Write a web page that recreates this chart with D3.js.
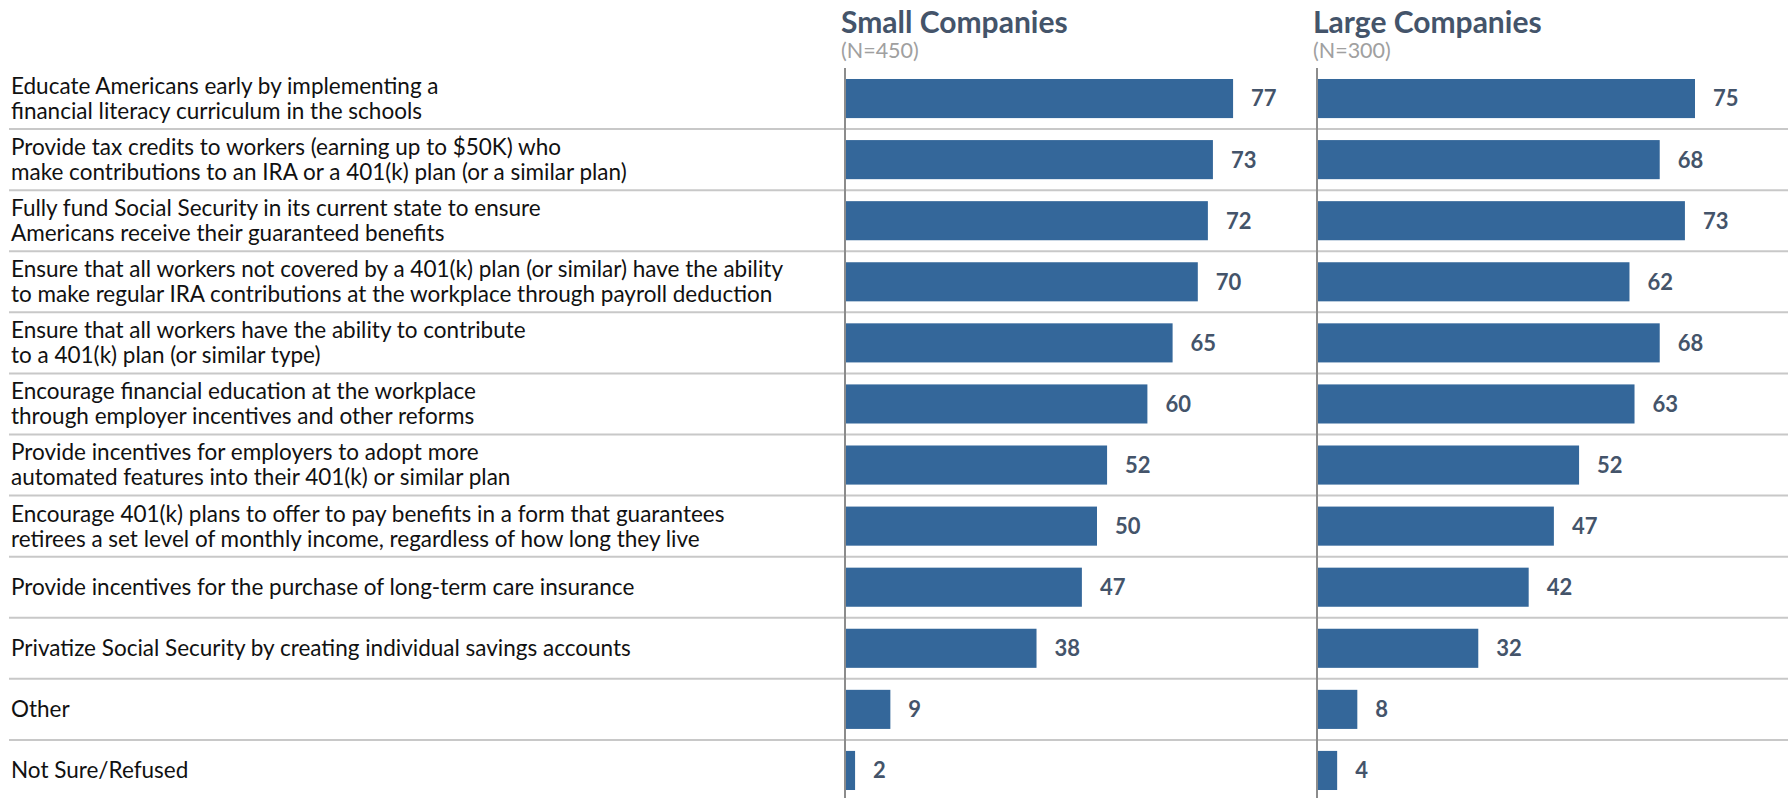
<!DOCTYPE html>
<html>
<head>
<meta charset="utf-8">
<script src="https://cdn.jsdelivr.net/npm/d3@7"></script>
<style>
  body { margin: 0; background: #fff; }
  text { font-family: Lato, "Open Sans", sans-serif; }
</style>
</head>
<body>
<div id="chart"></div>
<script>
const categories = [
  ["Educate Americans early by implementing a", "financial literacy curriculum in the schools"],
  ["Provide tax credits to workers (earning up to $50K) who", "make contributions to an IRA or a 401(k) plan (or a similar plan)"],
  ["Fully fund Social Security in its current state to ensure", "Americans receive their guaranteed benefits"],
  ["Ensure that all workers not covered by a 401(k) plan (or similar) have the ability", "to make regular IRA contributions at the workplace through payroll deduction"],
  ["Ensure that all workers have the ability to contribute", "to a 401(k) plan (or similar type)"],
  ["Encourage financial education at the workplace", "through employer incentives and other reforms"],
  ["Provide incentives for employers to adopt more", "automated features into their 401(k) or similar plan"],
  ["Encourage 401(k) plans to offer to pay benefits in a form that guarantees", "retirees a set level of monthly income, regardless of how long they live"],
  ["Provide incentives for the purchase of long-term care insurance"],
  ["Privatize Social Security by creating individual savings accounts"],
  ["Other"],
  ["Not Sure/Refused"]
];

const smallValues = [77, 73, 72, 70, 65, 60, 52, 50, 47, 38, 9, 2];
const largeValues = [75, 68, 73, 62, 68, 63, 52, 47, 42, 32, 8, 4];

const panelTitles = ["Small Companies", "Large Companies"];
const panelBases = ["(N=450)", "(N=300)"];

const w = 1788;
const h = 798;
const barColor = "#34679a";
const darkText = "#44546a";
const labelSize = 22.5;

const svg = d3.select("#chart")
  .append("svg")
  .attr("width", w)
  .attr("height", h);

const yScale = d3.scaleBand()
  .domain(d3.range(categories.length))
  .range([68, 801])
  .paddingInner(0.36)
  .paddingOuter(0.18);

const step = yScale.step();

// row separators
svg.selectAll("line.sep")
  .data(d3.range(1, categories.length))
  .enter()
  .append("line")
  .attr("class", "sep")
  .attr("x1", 9)
  .attr("x2", w)
  .attr("y1", i => 68 + i * step)
  .attr("y2", i => 68 + i * step)
  .attr("stroke", "#c8c8c8")
  .attr("stroke-width", 2);

// category labels
const labels = svg.selectAll("text.cat")
  .data(categories)
  .enter()
  .append("text")
  .attr("class", "cat")
  .attr("x", 11)
  .attr("y", (d, i) => yScale(i) + yScale.bandwidth() / 2)
  .attr("font-size", labelSize)
  .attr("fill", "#111");

labels.selectAll("tspan")
  .data(d => d.map((t, k) => ({ t, k, n: d.length })))
  .enter()
  .append("tspan")
  .attr("x", 11)
  .attr("dy", d => d.k === 0 ? (d.n === 1 ? "0.35em" : (0.35 * labelSize - 12.5) + "px") : "25px")
  .text(d => d.t);

const panels = [
  { values: smallValues, x0: 845 },
  { values: largeValues, x0: 1317 }
];

panels.forEach((p, pi) => {
  const xScale = d3.scaleLinear()
    .domain([0, 100])
    .range([p.x0, p.x0 + 504]);

  const g = svg.append("g");

  g.selectAll("rect")
    .data(p.values)
    .enter()
    .append("rect")
    .attr("x", xScale(0))
    .attr("y", (d, i) => yScale(i))
    .attr("width", d => xScale(d) - xScale(0))
    .attr("height", yScale.bandwidth())
    .attr("fill", barColor);

  g.selectAll("text.val")
    .data(p.values)
    .enter()
    .append("text")
    .attr("class", "val")
    .attr("x", d => xScale(d) + 18)
    .attr("y", (d, i) => yScale(i) + yScale.bandwidth() / 2)
    .attr("dy", "0.36em")
    .attr("font-size", 22)
    .attr("font-weight", "bold")
    .attr("fill", darkText)
    .text(d => d);

  // axis line
  g.append("line")
    .attr("x1", xScale(0))
    .attr("x2", xScale(0))
    .attr("y1", 68)
    .attr("y2", h)
    .attr("stroke", "#8c8c8c")
    .attr("stroke-width", 2);

  g.append("text")
    .attr("x", p.x0 - 4)
    .attr("y", 33)
    .attr("font-size", 30)
    .attr("font-weight", "bold")
    .attr("fill", darkText)
    .text(panelTitles[pi]);

  g.append("text")
    .attr("x", p.x0 - 4)
    .attr("y", 58)
    .attr("font-size", 21.5)
    .attr("fill", "#a0a0a0")
    .text(panelBases[pi]);
});
</script>
</body>
</html>
